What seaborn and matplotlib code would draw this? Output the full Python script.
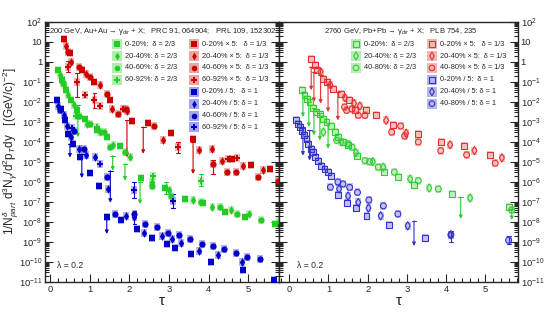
import numpy as np
import seaborn as sns
import matplotlib.pyplot as plt
from matplotlib.ticker import FixedLocator, MultipleLocator, LogLocator, NullFormatter

# ---------------- data (tau, log10 of yield) ----------------
# Au+Au 200 GeV (left panel)
auau_red_sq_tau = [0.36, 0.50, 0.80, 1.10, 1.52, 2.07, 2.48, 3.05, 3.60, 4.59, 5.08, 5.56]
auau_red_sq_lg = [1.15, 0.43, -0.41, -1.00, -1.92, -2.97, -3.05, -3.55, -3.84, -4.84, -5.13, -5.35]
auau_red_dia_tau = [0.40, 0.53, 0.90, 1.26, 1.56, 1.94, 2.84, 3.77, 4.08, 4.34, 4.88, 5.37]
auau_red_dia_lg = [0.80, 0.00, -0.58, -1.16, -2.33, -2.45, -3.90, -4.38, -4.34, -4.93, -5.21, -5.40]
auau_red_circ_tau = [0.45, 0.72, 1.01, 1.43, 1.72, 1.92, 2.63, 4.12, 4.46, 4.69, 5.24, 5.76]
auau_red_circ_lg = [0.48, -0.24, -0.75, -1.60, -2.58, -2.37, -3.22, -5.10, -5.51, -5.51, -5.77, -5.97]
auau_red_plus_tau = [0.46, 0.67, 0.88, 1.12, 1.25, 1.85, 3.22, 4.49, 4.71]
auau_red_plus_lg = [-0.24, -1.00, -1.66, -1.90, -2.20, -2.33, -4.26, -4.83, -4.79]
auau_red_lim = [(1.94, -2.92, -4.76), (2.35, -3.25, -4.59), (3.61, -4.00, -5.60)]
auau_red_err = [(0.67, -0.55, -1.75), (0.46, 0.05, -0.50), (1.12, -1.55, -2.30), (3.22, -4.00, -4.55), (4.12, -4.90, -5.60)]

auau_green_sq_tau = [0.21, 0.30, 0.40, 0.52, 0.67, 0.88, 1.18, 1.43, 1.77, 2.29, 2.91, 3.41, 3.87, 4.42, 4.92, 5.68]
auau_green_sq_lg = [-0.38, -0.91, -1.41, -1.90, -2.42, -2.84, -3.42, -3.76, -4.22, -5.80, -6.30, -6.85, -7.07, -7.52, -7.74, -8.08]
auau_green_dia_tau = [0.25, 0.36, 0.46, 0.59, 0.94, 1.25, 1.60, 2.01, 2.57, 3.00, 3.60, 4.10, 4.57, 5.03, 5.77]
auau_green_dia_lg = [-0.66, -1.16, -1.66, -2.17, -3.09, -3.50, -4.17, -4.76, -6.00, -6.40, -6.90, -7.24, -7.40, -7.60, -7.94]
auau_green_circ_tau = [0.33, 0.72, 1.01, 1.35, 1.50, 1.89, 2.57, 3.05, 3.80, 4.28, 4.71, 5.33]
auau_green_circ_lg = [-1.05, -2.70, -3.09, -3.50, -4.26, -4.51, -6.20, -6.70, -7.00, -7.27, -7.60, -7.90]
auau_green_plus_tau = [0.29, 0.66, 1.18, 2.60, 3.81]
auau_green_plus_lg = [-0.80, -2.70, -3.25, -5.70, -5.93]
auau_green_lim = [(0.70, -2.17, -3.76), (1.58, -4.68, -5.43), (1.89, -5.10, -5.93), (2.27, -6.02, -7.10)]
auau_green_err = [(2.93, -6.00, -6.60), (3.81, -5.60, -6.20)]

auau_blue_sq_tau = [0.17, 0.28, 0.38, 0.46, 0.58, 0.76, 1.01, 1.24, 1.43, 1.79, 2.19, 2.57, 2.96, 3.16, 3.55, 4.06, 4.88, 5.66]
auau_blue_sq_lg = [-1.88, -2.33, -2.92, -3.59, -4.10, -4.76, -5.56, -6.20, -7.77, -7.90, -8.36, -8.78, -9.11, -9.28, -9.58, -9.98, -10.41, -10.90]
auau_blue_dia_tau = [0.20, 0.34, 0.42, 0.52, 0.72, 0.90, 1.14, 1.47, 1.92, 2.13, 2.36, 2.82, 3.07, 3.31, 3.77, 4.25, 4.84]
auau_blue_dia_lg = [-2.20, -2.67, -3.22, -3.76, -4.34, -4.67, -4.76, -6.35, -7.70, -7.75, -8.57, -8.69, -8.86, -9.03, -9.45, -9.65, -10.00]
auau_blue_circ_tau = [0.25, 0.60, 0.85, 1.43, 1.64, 2.13, 2.40, 2.69, 2.97, 3.26, 3.54, 3.83, 4.11, 4.40, 4.70, 4.98, 5.29]
auau_blue_circ_lg = [-2.40, -3.44, -4.34, -5.77, -7.60, -7.60, -8.10, -8.27, -8.53, -8.66, -8.86, -9.11, -9.20, -9.36, -9.53, -9.75, -9.83]
auau_blue_plus_tau = [0.55, 1.26, 2.11, 3.10]
auau_blue_plus_lg = [-3.30, -5.10, -6.40, -6.93]
auau_blue_lim = [(0.50, -4.09, -4.78), (0.80, -4.60, -5.80), (1.52, -5.43, -7.04), (1.43, -7.69, -8.60)]
auau_blue_err = [(2.11, -6.00, -6.80), (3.10, -6.60, -7.30), (2.13, -7.45, -8.10)]

# Pb+Pb 2760 GeV (right panel)
pbpb_red_sq_tau = [0.55, 0.65, 0.71, 0.86, 0.97, 1.11, 1.33, 1.52, 1.68, 1.95, 2.21, 2.65, 3.29, 3.87, 4.46, 5.12]
pbpb_red_sq_lg = [0.13, -0.16, -0.41, -0.83, -1.00, -1.33, -1.58, -1.92, -2.38, -2.40, -2.67, -3.17, -3.59, -4.00, -4.22, -4.63]
pbpb_red_dia_tau = [0.80, 1.05, 1.42, 1.65, 1.80, 2.47, 2.98, 4.10, 4.72, 5.42]
pbpb_red_dia_lg = [-0.49, -1.15, -1.78, -2.07, -2.20, -2.92, -3.56, -4.14, -4.43, -4.79]
pbpb_red_circ_tau = [1.41, 1.46, 1.60, 1.76, 1.93, 2.61, 2.84, 2.94, 3.29, 3.86, 4.52, 5.25]
pbpb_red_circ_lg = [-2.25, -2.42, -2.35, -2.67, -2.67, -3.51, -3.20, -3.70, -4.00, -4.43, -4.64, -5.06]
pbpb_red_lim = [(0.56, -0.24, -1.41), (0.63, -0.49, -2.00), (0.80, -0.66, -2.08), (0.99, -1.08, -2.50), (1.24, -1.50, -2.92)]

pbpb_green_sq_tau = [0.32, 0.39, 0.46, 0.52, 0.60, 0.68, 0.78, 0.86, 0.95, 1.07, 1.16, 1.24, 1.37, 1.50, 1.73, 2.42, 2.78, 3.19, 4.14, 5.59]
pbpb_green_sq_lg = [-1.41, -1.66, -1.83, -2.00, -2.28, -2.50, -2.62, -2.85, -3.00, -3.22, -3.51, -3.75, -4.00, -4.17, -4.68, -5.48, -5.73, -6.15, -6.60, -7.27]
pbpb_green_dia_tau = [0.87, 1.33, 1.70, 2.13, 2.40, 3.08, 3.57, 4.61]
pbpb_green_dia_lg = [-3.51, -4.00, -4.53, -4.98, -5.26, -5.85, -6.30, -6.80]
pbpb_green_circ_tau = [1.21, 1.50, 1.60, 1.93, 2.05, 2.27, 2.68, 3.29, 3.80, 5.67]
pbpb_green_circ_lg = [-3.92, -4.09, -4.26, -4.93, -4.98, -5.26, -5.51, -5.93, -6.35, -7.40]
pbpb_green_lim = [(0.35, -1.50, -2.75), (0.50, -2.00, -3.25), (0.63, -2.32, -3.67), (0.78, -2.57, -3.92),
                  (0.99, -3.07, -4.33), (4.37, -6.75, -7.85), (5.67, -7.35, -7.90)]

pbpb_blue_sq_tau = [0.18, 0.23, 0.27, 0.33, 0.38, 0.44, 0.48, 0.55, 0.60, 0.66, 0.73, 0.80, 0.90, 0.98, 1.07, 1.25, 1.48, 1.70, 1.97, 2.55, 3.46]
pbpb_blue_sq_lg = [-2.89, -3.10, -3.25, -3.45, -3.67, -3.85, -4.09, -4.34, -4.51, -4.76, -4.93, -5.18, -5.35, -5.51, -5.68, -6.65, -7.05, -7.30, -7.69, -8.14, -8.81]
pbpb_blue_dia_tau = [1.27, 1.50, 1.76, 2.02, 2.33, 3.02, 4.12]
pbpb_blue_dia_lg = [-6.35, -6.70, -7.02, -7.30, -7.69, -8.19, -8.64]
pbpb_blue_circ_tau = [1.05, 1.24, 1.37, 1.54, 1.74, 2.03, 2.40, 2.77, 4.12, 5.59]
pbpb_blue_circ_lg = [-6.26, -6.00, -6.10, -6.27, -6.52, -6.90, -7.19, -7.60, -8.64, -8.91]
pbpb_blue_lim = [(0.35, -3.25, -4.68), (0.52, -3.42, -4.93), (3.18, -7.95, -9.20)]
pbpb_blue_err = [(4.12, -8.45, -9.00), (5.59, -8.70, -9.10)]

ytick_labels = ['$10^{-11}$', '$10^{-10}$', '$10^{-9}$', '$10^{-8}$', '$10^{-7}$', '$10^{-6}$', '$10^{-5}$',
                '$10^{-4}$', '$10^{-3}$', '$10^{-2}$', '$10^{-1}$', '1', '10', '$10^{2}$']
xtick_labels = ['0', '1', '2', '3', '4', '5']

auau_legend_1 = ['0-20%:  δ = 2/3', '20-40%: δ = 2/3', '40-60%: δ = 2/3', '60-92%: δ = 2/3']
auau_legend_2 = ['0-20% × 5:   δ = 1/3', '20-40% × 5:  δ = 1/3', '40-60% × 5:  δ = 1/3', '60-92% × 5:  δ = 1/3',
                 '0-20% / 5:   δ = 1', '20-40% / 5: δ = 1', '40-60% / 5: δ = 1', '60-92% / 5: δ = 1']
pbpb_legend_1 = ['0-20%:  δ = 2/3', '20-40%: δ = 2/3', '40-80%: δ = 2/3']
pbpb_legend_2 = ['0-20% × 5:   δ = 1/3', '20-40% × 5:  δ = 1/3', '40-80% × 5: δ = 1/3',
                 '0-20% / 5:  δ = 1', '20-40% / 5: δ = 1', '40-80% / 5: δ = 1']

# ---------------- style ----------------
sns.set_style('ticks')
plt.rcParams['font.family'] = ['Liberation Sans', 'DejaVu Sans']
plt.rcParams['mathtext.fontset'] = 'custom'
plt.rcParams['mathtext.rm'] = 'Liberation Sans'
plt.rcParams['mathtext.it'] = 'Liberation Sans:italic'
plt.rcParams['mathtext.sf'] = 'Liberation Sans'

RED_F, GREEN_F, BLUE_F = '#cc0000', '#22cc22', '#0000cc'
RED_O, GREEN_O, BLUE_O = '#e53030', '#33cc33', '#3333cc'
MARK = {'sq': 's', 'dia': 'd', 'circ': 'o', 'plus': 'P'}


def draw(ax, tau, lg, kind, color, filled):
    tau = np.asarray(tau)
    y = 10.0 ** np.asarray(lg)
    # systematic boxes
    ax.bar(tau, y * (10 ** 0.2 - 10 ** -0.2), bottom=y * 10 ** -0.2, width=0.15,
           color=color, alpha=0.3, linewidth=0, zorder=1)
    if filled:
        sns.scatterplot(x=tau, y=y, marker=MARK[kind], s=20, color=color, edgecolor=color,
                        linewidth=0, ax=ax, zorder=3, legend=False)
    else:
        sns.scatterplot(x=tau, y=y, marker=MARK[kind], s=18, color=color, edgecolor=color,
                        linewidth=0.8, ax=ax, zorder=3, legend=False)
        ax.collections[-1].set_facecolor('none')


def limits(ax, rows, color):
    for x, top, bot in rows:
        ax.annotate('', xy=(x, 10 ** bot), xytext=(x, 10 ** top),
                    arrowprops=dict(arrowstyle='-|>', color=color, lw=0.8, shrinkA=0, shrinkB=0,
                                    mutation_scale=5), zorder=2)
        ax.plot([x - 0.06, x + 0.06], [10 ** top, 10 ** top], color=color, lw=0.8, zorder=2)


def errbars(ax, rows, color):
    for x, hi, lo in rows:
        ax.vlines(x, 10 ** lo, 10 ** hi, color=color, lw=0.8, zorder=2)
        ax.plot([x - 0.05, x + 0.05], [10 ** hi, 10 ** hi], color=color, lw=0.8, zorder=2)
        ax.plot([x - 0.05, x + 0.05], [10 ** lo, 10 ** lo], color=color, lw=0.8, zorder=2)


def legend_entry(ax, x, y, kind, color, filled, label):
    ax.scatter([x], [y], marker='s', s=48, color=color, alpha=0.35, linewidth=0,
               transform=ax.transAxes, zorder=5, clip_on=False)
    ax.scatter([x], [y], marker=MARK[kind], s=16, facecolor=color if filled else 'none',
               edgecolor=color, linewidth=0 if filled else 0.8, transform=ax.transAxes, zorder=6)
    ax.text(x + 0.032, y, label, transform=ax.transAxes, va='center', ha='left', fontsize=5.35)


def style_axes(ax, xlim, right_labels):
    ax.set_yscale('log')
    ax.set_ylim(1e-11, 1e2)
    ax.set_xlim(*xlim)
    ax.yaxis.set_major_locator(FixedLocator([10.0 ** k for k in range(-11, 3)]))
    ax.set_yticklabels(ytick_labels)
    ax.yaxis.set_minor_locator(LogLocator(base=10, subs=np.arange(2, 10), numticks=30))
    ax.yaxis.set_minor_formatter(NullFormatter())
    ax.xaxis.set_major_locator(FixedLocator(range(0, 6)))
    ax.set_xticklabels(xtick_labels)
    ax.xaxis.set_minor_locator(MultipleLocator(0.2))
    ax.tick_params(which='both', direction='in', left=True, right=True, top=False, bottom=True,
                   labelleft=not right_labels, labelright=right_labels, labelsize=6.8, pad=2,
                   width=0.8)
    ax.tick_params(which='major', length=5.5)
    ax.tick_params(which='minor', length=3)
    for s in ax.spines.values():
        s.set_linewidth(1.0)
    ax.set_xlabel('τ', fontsize=11, labelpad=0)
    ax.set_ylabel('')


fig = plt.figure(figsize=(5.52, 3.22), dpi=100)
axL = fig.add_axes([45 / 552, 1 - 282 / 322, 234 / 552, 260 / 322])
axR = fig.add_axes([279 / 552, 1 - 282 / 322, 239 / 552, 260 / 322])

# left panel: Au+Au
draw(axL, auau_red_sq_tau, auau_red_sq_lg, 'sq', RED_F, True)
draw(axL, auau_red_dia_tau, auau_red_dia_lg, 'dia', RED_F, True)
draw(axL, auau_red_circ_tau, auau_red_circ_lg, 'circ', RED_F, True)
draw(axL, auau_red_plus_tau, auau_red_plus_lg, 'plus', RED_F, True)
draw(axL, auau_green_sq_tau, auau_green_sq_lg, 'sq', GREEN_F, True)
draw(axL, auau_green_dia_tau, auau_green_dia_lg, 'dia', GREEN_F, True)
draw(axL, auau_green_circ_tau, auau_green_circ_lg, 'circ', GREEN_F, True)
draw(axL, auau_green_plus_tau, auau_green_plus_lg, 'plus', GREEN_F, True)
draw(axL, auau_blue_sq_tau, auau_blue_sq_lg, 'sq', BLUE_F, True)
draw(axL, auau_blue_dia_tau, auau_blue_dia_lg, 'dia', BLUE_F, True)
draw(axL, auau_blue_circ_tau, auau_blue_circ_lg, 'circ', BLUE_F, True)
draw(axL, auau_blue_plus_tau, auau_blue_plus_lg, 'plus', BLUE_F, True)
limits(axL, auau_red_lim, RED_F)
limits(axL, auau_green_lim, GREEN_F)
limits(axL, auau_blue_lim, BLUE_F)
errbars(axL, auau_red_err, RED_F)
errbars(axL, auau_green_err, GREEN_F)
errbars(axL, auau_blue_err, BLUE_F)

# right panel: Pb+Pb
draw(axR, pbpb_red_sq_tau, pbpb_red_sq_lg, 'sq', RED_O, False)
draw(axR, pbpb_red_dia_tau, pbpb_red_dia_lg, 'dia', RED_O, False)
draw(axR, pbpb_red_circ_tau, pbpb_red_circ_lg, 'circ', RED_O, False)
draw(axR, pbpb_green_sq_tau, pbpb_green_sq_lg, 'sq', GREEN_O, False)
draw(axR, pbpb_green_dia_tau, pbpb_green_dia_lg, 'dia', GREEN_O, False)
draw(axR, pbpb_green_circ_tau, pbpb_green_circ_lg, 'circ', GREEN_O, False)
draw(axR, pbpb_blue_sq_tau, pbpb_blue_sq_lg, 'sq', BLUE_O, False)
draw(axR, pbpb_blue_dia_tau, pbpb_blue_dia_lg, 'dia', BLUE_O, False)
draw(axR, pbpb_blue_circ_tau, pbpb_blue_circ_lg, 'circ', BLUE_O, False)
limits(axR, pbpb_red_lim, RED_O)
limits(axR, pbpb_green_lim, GREEN_O)
limits(axR, pbpb_blue_lim, BLUE_O)
errbars(axR, pbpb_blue_err, BLUE_O)

style_axes(axL, (-0.13, 5.78), False)
style_axes(axR, (-0.26, 5.83), True)

# titles and legends
axL.text(0.015, 0.962, '200 GeV, Au+Au → γ$_{dir}$ + X;   PRC 91, 064904;   PRL 109, 152302',
         transform=axL.transAxes, fontsize=5.5, va='center', ha='left')
axR.text(0.19, 0.962, '2760 GeV, Pb+Pb → γ$_{dir}$ + X;   PLB 754, 235',
         transform=axR.transAxes, fontsize=5.5, va='center', ha='left')

kinds = ['sq', 'dia', 'circ', 'plus']
row0, dy = 0.915, 0.0458
for i, lab in enumerate(auau_legend_1):
    legend_entry(axL, 0.308, row0 - i * dy, kinds[i], GREEN_F, True, lab)
for i, lab in enumerate(auau_legend_2):
    legend_entry(axL, 0.637, row0 - i * dy, kinds[i % 4], RED_F if i < 4 else BLUE_F, True, lab)
for i, lab in enumerate(pbpb_legend_1):
    legend_entry(axR, 0.322, row0 - i * dy, kinds[i], GREEN_O, False, lab)
for i, lab in enumerate(pbpb_legend_2):
    legend_entry(axR, 0.64, row0 - i * dy, kinds[i % 3], RED_O if i < 3 else BLUE_O, False, lab)

axL.text(0.05, 0.065, 'λ = 0.2', transform=axL.transAxes, fontsize=6.2, va='center')
axR.text(0.075, 0.065, 'λ = 0.2', transform=axR.transAxes, fontsize=6.2, va='center')

fig.text(11 / 552, 0.53, r'1/N$_{part}^{\delta}$ d$^{3}$N$_{\gamma}$/d$^{2}$p$_{T}$dy   [(GeV/c)$^{-2}$]',
         rotation=90, ha='center', va='center', fontsize=8.5)

fig.savefig('out.png', dpi=100)
